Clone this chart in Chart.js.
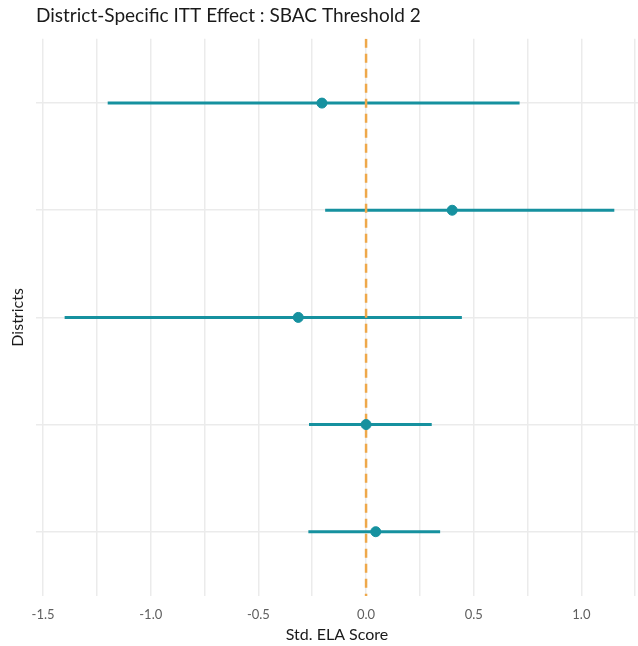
<!DOCTYPE html>
<html>
<head>
<meta charset="utf-8">
<script src="https://cdn.jsdelivr.net/npm/chart.js@4.4.1/dist/chart.umd.min.js"></script>
<style>
    html, body { margin: 0; padding: 0; background: #ffffff; }
    #wrap { width: 638px; height: 646px; position: relative; }
    canvas { display: block; }
</style>
</head>
<body>
<div id="wrap"><canvas id="ittChart"></canvas></div>
<script>
// ===========================
// Data
// ===========================

const districtRows = [1, 2, 3, 4, 5];
const estimates = [-0.205, 0.40, -0.315, 0.0, 0.045];
const lowerBounds = [-1.20, -0.19, -1.40, -0.265, -0.268];
const upperBounds = [0.713, 1.153, 0.445, 0.305, 0.344];
const xTickValues = [-1.5, -1.25, -1.0, -0.75, -0.5, -0.25, 0, 0.25, 0.5, 0.75, 1.0, 1.25];
const xTickLabels = ['-1.5', '', '-1.0', '', '-0.5', '', '0.0', '', '0.5', '', '1.0', ''];
const referenceX = 0;

const TEAL = '#16919f';
const ORANGE = '#eea84a';
const GRID = '#ebebeb';

// ===========================
// Datasets
// ===========================

const intervalSets = districtRows.map((row, i) => ({
    type: 'line',
    data: [{ x: lowerBounds[i], y: row }, { x: upperBounds[i], y: row }],
    borderColor: TEAL,
    borderWidth: 3,
    pointRadius: 0,
    borderCapStyle: 'butt',
    order: 2
}));

const referenceSet = {
    type: 'line',
    data: [{ x: referenceX, y: 0.4 }, { x: referenceX, y: 5.6 }],
    borderColor: ORANGE,
    borderWidth: 2.5,
    borderDash: [9, 6],
    pointRadius: 0,
    order: 1
};

const pointSet = {
    type: 'scatter',
    data: districtRows.map((row, i) => ({ x: estimates[i], y: row })),
    backgroundColor: TEAL,
    borderColor: TEAL,
    pointRadius: 5,
    order: 0
};

// ===========================
// Chart
// ===========================

new Chart(document.getElementById('ittChart'), {
    type: 'scatter',
    data: { datasets: [...intervalSets, referenceSet, pointSet] },
    options: {
        responsive: true,
        maintainAspectRatio: false,
        animation: false,
        layout: { padding: 0, autoPadding: false },
        plugins: {
            legend: { display: false },
            tooltip: { enabled: false },
            title: {
                display: true,
                text: 'District-Specific ITT Effect : SBAC Threshold 2',
                align: 'start',
                fullSize: false,
                color: '#1a1a1a',
                font: { family: 'Lato', size: 19, weight: 'normal' },
                padding: { top: 4, bottom: 12 }
            }
        },
        scales: {
            x: {
                type: 'linear',
                min: -1.533,
                max: 1.263,
                border: { display: false },
                grid: { color: GRID, lineWidth: 1.5, drawTicks: false },
                afterBuildTicks: (scale) => {
                    scale.ticks = xTickValues.map(v => ({ value: v }));
                },
                afterFit: (scale) => {
                    scale.height = 50;
                    scale.paddingLeft = 0;
                    scale.paddingRight = 0;
                },
                ticks: {
                    autoSkip: false,
                    maxRotation: 0,
                    padding: 11,
                    color: '#5f5f5f',
                    font: { family: 'Lato', size: 13 },
                    callback: (value, index) => xTickLabels[index]
                },
                title: {
                    display: true,
                    text: 'Std. ELA Score',
                    color: '#1a1a1a',
                    font: { family: 'Lato', size: 16 },
                    padding: { top: 0, bottom: 2 }
                }
            },
            y: {
                type: 'linear',
                min: 0.4,
                max: 5.6,
                reverse: true,
                border: { display: false },
                grid: { color: GRID, lineWidth: 1.5, drawTicks: false },
                afterBuildTicks: (scale) => {
                    scale.ticks = districtRows.map(v => ({ value: v }));
                },
                afterFit: (scale) => {
                    scale.width = 36;
                    scale.paddingTop = 0;
                    scale.paddingBottom = 0;
                },
                ticks: { display: false },
                title: {
                    display: true,
                    text: 'Districts',
                    color: '#1a1a1a',
                    font: { family: 'Lato', size: 16 },
                    padding: { top: 8, bottom: 0 }
                }
            }
        }
    }
});
</script>
</body>
</html>
